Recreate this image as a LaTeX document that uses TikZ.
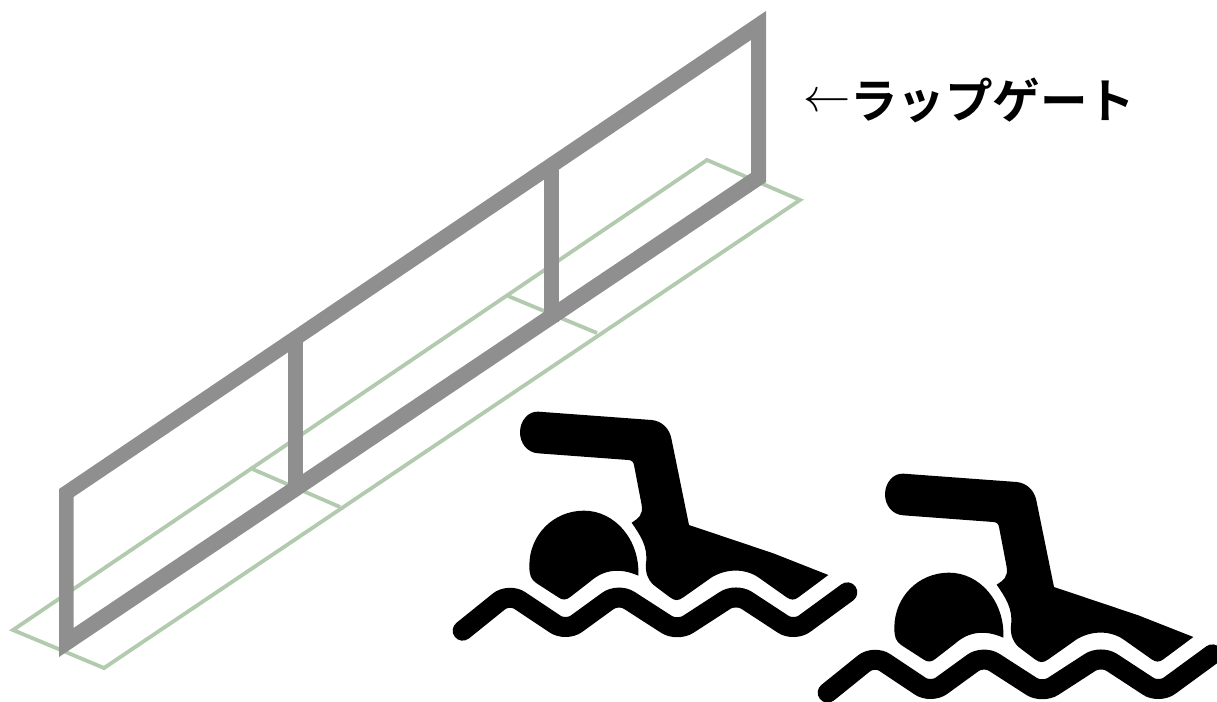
\documentclass[tikz,border=0pt]{standalone}
\usepackage{fontspec}
\newfontfamily\jpfont{Noto Sans CJK JP}[BoldFont={Noto Sans CJK JP Bold}]
\definecolor{gategray}{HTML}{8F8F8F}
\definecolor{lanegreen}{HTML}{B2CAAE}
\tikzset{
  lane/.style={draw=lanegreen,line width=3.8pt,line join=miter},
  gatebar/.style={fill=gategray,draw=none},
  swimmer/.pic={
    \begin{scope}[x=0.33333pt,y=-0.33333pt]
      \fill[black] (295,35) -- (635,60) .. controls (665,63) and (688,85) .. (694,115)
        -- (747,375) -- (1000,460) -- (1165,525) -- (1075,592)
        .. controls (1062,602) and (1052,600) .. (1040,592)
        -- (955,532) .. controls (915,505) and (860,505) .. (815,532)
        -- (730,592) .. controls (715,603) and (705,603) .. (690,592)
        -- (650,562) .. controls (625,545) and (615,520) .. (618,490)
        .. controls (625,440) and (600,405) .. (575,368)
        .. controls (595,355) and (610,345) .. (605,315)
        -- (582,195) .. controls (580,185) and (575,181) .. (565,180)
        -- (295,160) .. controls (262,158) and (240,130) .. (240,97)
        .. controls (240,62) and (265,33) .. (295,35) -- cycle;
      \fill[black] (595,527) .. controls (600,420) and (525,332) .. (432,332)
        .. controls (340,332) and (268,405) .. (268,497)
        .. controls (268,525) and (272,538) .. (290,550)
        -- (355,592) .. controls (368,602) and (380,600) .. (392,590)
        -- (450,545) .. controls (495,505) and (545,505) .. (595,527) -- cycle;
      \draw[black,line width=20pt,line cap=round,rounded corners=13pt]
        (68,692) -- (207,580) -- (378,694) -- (535,580) -- (712,694) -- (888,580) -- (1062,694) -- (1222,577);
    \end{scope}
  }
}
\begin{document}
\begin{tikzpicture}[x=1pt,y=-1pt]
  \useasboundingbox (0,0) rectangle (1217,701);
  % lane markings
  \draw[lane] (13,630) -- (104,668) -- (800,200) -- (707,160) -- cycle;
  \draw[lane] (508,296) -- (597,333);
  \draw[lane] (250,468) -- (340,507);
  % gate frame
  \fill[gatebar,even odd rule] (59,489) -- (766,11) -- (766,182) -- (59,657) -- cycle
    (73.5,497) -- (751,40) -- (751,173) -- (73.5,628) -- cycle;
  \fill[gatebar] (543.5,170) rectangle (558.7,322);
  \fill[gatebar] (288,340) rectangle (303,492);
  % swimmers
  \pic at (440,400) {swimmer};
  \pic at (805,462) {swimmer};
  % label
  \node (label) [anchor=base west,inner sep=0pt,font=\fontsize{47.5}{50}\selectfont] at (803,118)
    {\raisebox{6.5pt}{\scalebox{1.9}{$\leftarrow$}}\jpfont\bfseries ラップゲート};
\end{tikzpicture}
\end{document}
